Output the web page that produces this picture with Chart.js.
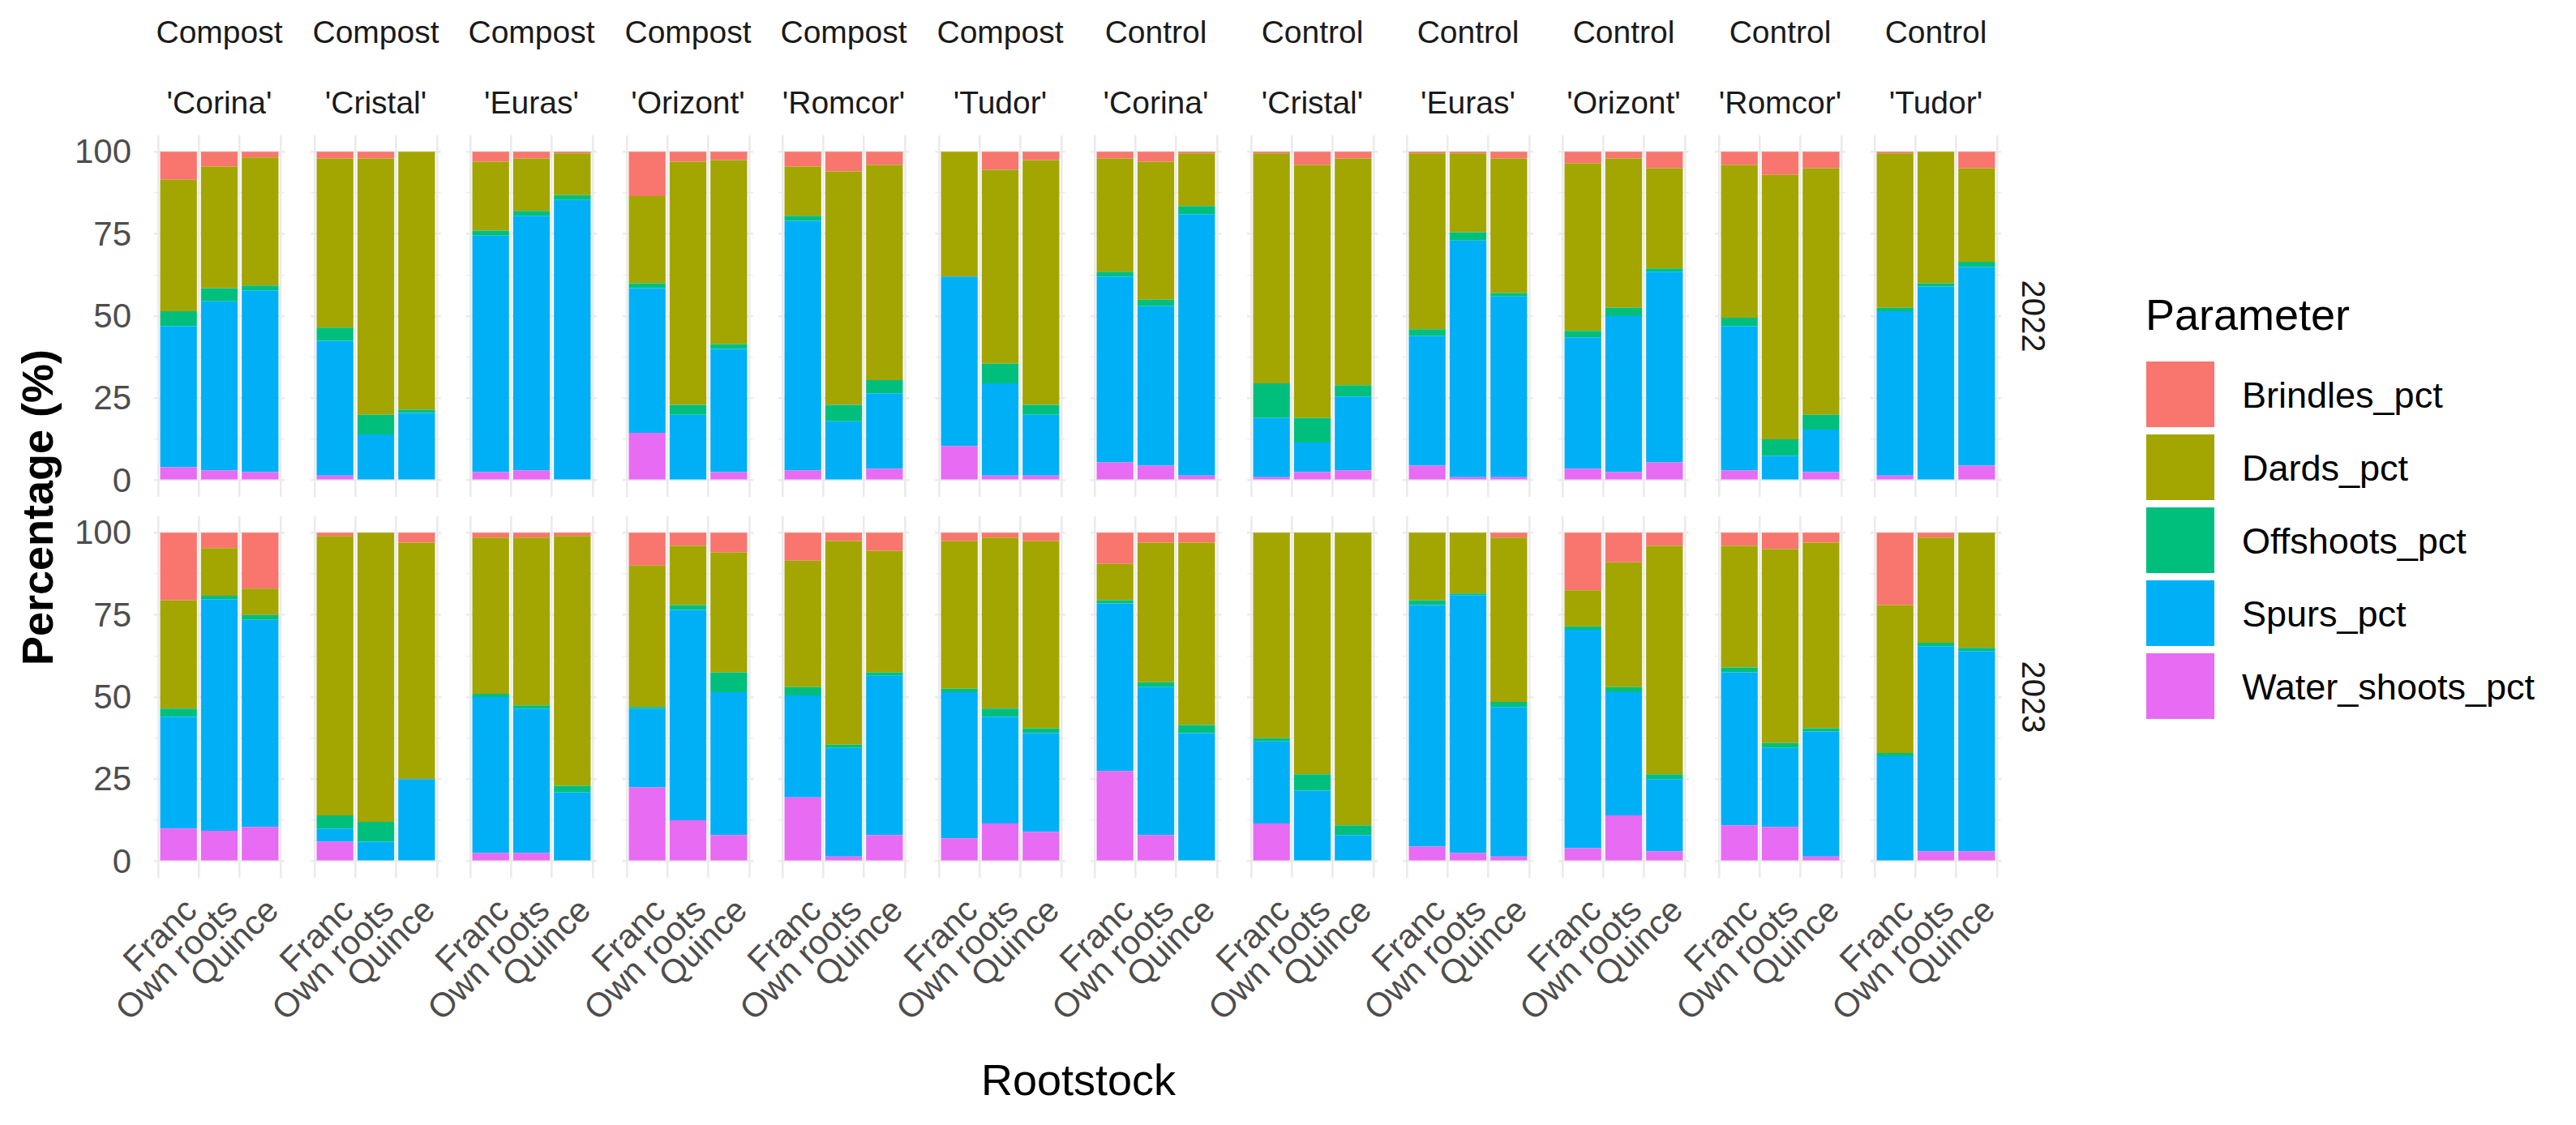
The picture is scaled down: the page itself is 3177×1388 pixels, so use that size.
<!DOCTYPE html>
<html><head><meta charset="utf-8">
<script src="https://cdn.jsdelivr.net/npm/chart.js@4.4.1/dist/chart.umd.min.js"></script>
<style>
html,body{margin:0;padding:0;background:#fff;}
#root{position:relative;width:3177px;height:1388px;overflow:hidden;font-family:"Liberation Sans",Arial,sans-serif;background:#fff;}
#root canvas{position:absolute;}
.t{position:absolute;white-space:nowrap;line-height:1;}
</style></head><body><div id="root"></div>
<script>
// ---------- categories ----------
const treatments = ['Compost','Compost','Compost','Compost','Compost','Compost','Control','Control','Control','Control','Control','Control'];
const cultivars = ["'Corina'","'Cristal'","'Euras'","'Orizont'","'Romcor'","'Tudor'","'Corina'","'Cristal'","'Euras'","'Orizont'","'Romcor'","'Tudor'"];
const rootstocks = ['Franc','Own roots','Quince'];
const years = ['2022','2023'];
const seriesNames = ['Brindles_pct','Dards_pct','Offshoots_pct','Spurs_pct','Water_shoots_pct'];
const seriesColors = ['#F8766D','#A3A500','#00BF7D','#00B0F6','#E76BF3'];
const yTickLabels = [0,25,50,75,100];
const yGridValues = [0,12.5,25,37.5,50,62.5,75,87.5,100];

// ---------- values: one [Franc, Own roots, Quince] triple per panel ----------
const brindles2022 = [[8.5,4.5,1.7],[2,2,0],[3,2,0.5],[13.5,3,2.5],[4.5,6,4],[0,5.5,2.5],[2,3,0.5],[0.5,4,2],[0.5,0.5,2],[3.5,2,5],[4,7,5],[0.5,0,5]];
const dards2022    = [[40,37,39],[51.5,78,78.5],[21,16,12.7],[26.5,74,56],[15,71,65.5],[38,59,74.5],[34.5,42,16],[70,77,69],[53.5,24,41],[51,45.5,30.5],[46.5,80.5,75],[47,40,28.5]];
const offshoots2022= [[4.5,4,1.5],[4,6,1],[1.5,1.5,1.5],[1.5,3,1.5],[1.5,5,4],[0,6,3],[1.5,2,2.5],[10.5,7.5,3.5],[2,2.5,1],[2,2.5,1],[2.5,5,4.5],[1,1,1.5]];
const spurs2022    = [[43,51.5,55.3],[41,14,20.5],[72,77.5,85.3],[44,20,37.5],[76,18,23],[51.5,28,18.5],[56.5,48.5,79.5],[18,9,22.5],[39.5,72,55],[40,47.5,58],[44,7.5,13],[50,59,60.5]];
const water2022    = [[4,3,2.5],[1.5,0,0],[2.5,3,0],[14.5,0,2.5],[3,0,3.5],[10.5,1.5,1.5],[5.5,4.5,1.5],[1,2.5,3],[4.5,1,1],[3.5,2.5,5.5],[3,0,2.5],[1.5,0,4.5]];

const brindles2023 = [[20.5,4.7,17],[1,0,3],[1.5,1.5,1],[10,4,6],[8.5,2.5,5.5],[2.5,1.5,2.5],[9.5,3,3],[0,0,0],[0,0,1.5],[17.5,9,4],[4,5,3],[22,1.5,0]];
const dards2023    = [[33,14.5,8],[85,88,72],[47.5,51,76],[43,18,36.5],[38.5,62,37],[45,52,57],[11,42.5,55.5],[62.5,73.5,89],[20.5,18.5,50],[11,38,69.5],[37,59,56.5],[45,32,35]];
const offshoots2023= [[2.5,1,1.5],[4,6,0],[1,1,2],[0.5,1.5,6],[2.5,1,1],[1,2.5,1.5],[1,1.5,2.5],[1,5,3],[1.5,0.5,1.5],[1,1.5,1.5],[1.5,1.5,1],[1,1,1]];
const spurs2023    = [[34,70.5,63],[4,6,25],[47.5,44,21],[24,64,43.5],[31,33,48.5],[44.5,32.5,30],[51,45,39],[25,21.5,8],[73.5,78.5,45.5],[66.5,37.5,22],[46.5,24,38],[32,62.5,61]];
const water2023    = [[10,9.3,10.5],[6,0,0],[2.5,2.5,0],[22.5,12.5,8],[19.5,1.5,8],[7,11.5,9],[27.5,8,0],[11.5,0,0],[4.5,2.5,1.5],[4,14,3],[11,10.5,1.5],[0,3,3]];

const yearSeries = [
  {Brindles_pct:brindles2022, Dards_pct:dards2022, Offshoots_pct:offshoots2022, Spurs_pct:spurs2022, Water_shoots_pct:water2022},
  {Brindles_pct:brindles2023, Dards_pct:dards2023, Offshoots_pct:offshoots2023, Spurs_pct:spurs2023, Water_shoots_pct:water2023}
];

// ---------- layout ----------
const root = document.getElementById('root');
const PX0 = 190.4, PSTEP = 192.45, PW = 161, PH = 446;
const ROWTOP = [166.75, 636.8];
const GRID = '#EBEBEB';

function addText(txt, css) {
  const d = document.createElement('div');
  d.className = 't';
  d.textContent = txt;
  Object.assign(d.style, css);
  root.appendChild(d);
  return d;
}

const stackOrder = ['Water_shoots_pct','Spurs_pct','Offshoots_pct','Dards_pct','Brindles_pct'];

for (let r = 0; r < years.length; r++) {
  for (let p = 0; p < treatments.length; p++) {
    const left = Math.round(PX0 + PSTEP * p);
    const top = Math.round(ROWTOP[r]);
    const cv = document.createElement('canvas');
    cv.width = PW; cv.height = PH;
    cv.style.left = left + 'px'; cv.style.top = top + 'px';
    cv.style.width = PW + 'px'; cv.style.height = PH + 'px';
    root.appendChild(cv);
    const datasets = stackOrder.map(name => {
      const k = seriesNames.indexOf(name);
      return {
        label: name,
        data: rootstocks.map((rs, i) => ({x: i + 1, y: yearSeries[r][name][p][i]})),
        backgroundColor: seriesColors[k],
        borderWidth: 0,
        barPercentage: 0.9,
        categoryPercentage: 1.0
      };
    });
    const chart = new Chart(cv, {
      type: 'bar',
      data: {datasets},
      options: {
        responsive: false, animation: false, devicePixelRatio: 1,
        layout: {padding: 0},
        plugins: {legend: {display: false}, tooltip: {enabled: false}},
        scales: {
          x: {
            type: 'linear', min: 0.4, max: 3.6, stacked: true, offset: false,
            grid: {color: GRID, lineWidth: 2.6, drawTicks: false},
            border: {display: false},
            ticks: {display: false},
            afterBuildTicks: a => { a.ticks = rootstocks.map((_, i) => ({value: i + 1})); },
            afterFit: a => { a.height = 0; }
          },
          y: {
            type: 'linear', min: -5, max: 105, stacked: true,
            grid: {
              color: GRID,
              lineWidth: c => (c.tick && c.tick.value % 25 === 0) ? 2.6 : 1.3,
              drawTicks: false
            },
            border: {display: false},
            ticks: {display: false},
            afterBuildTicks: a => { a.ticks = yGridValues.map(v => ({value: v})); },
            afterFit: a => { a.width = 0; }
          }
        }
      }
    });

    // y tick labels (left column only)
    if (p === 0) {
      yTickLabels.forEach(v => {
        const y = top + chart.scales.y.getPixelForValue(v);
        addText(String(v), {right: (3177 - 162) + 'px', top: y + 'px', transform: 'translateY(-50%)',
          fontSize: '42px', color: '#4D4D4D', textAlign: 'right'});
      });
    }
    // strip labels (top row)
    if (r === 0) {
      const cx = left + PW / 2;
      addText(treatments[p], {left: cx + 'px', top: '39px', transform: 'translate(-50%,-50%)', fontSize: '39px', color: '#1A1A1A'});
      addText(cultivars[p], {left: cx + 'px', top: '126px', transform: 'translate(-50%,-50%)', fontSize: '39px', color: '#1A1A1A'});
    }
    // x tick labels (bottom row)
    if (r === years.length - 1) {
      rootstocks.forEach((rs, i) => {
        const x = left + chart.scales.x.getPixelForValue(i + 1);
        addText(rs, {right: (3177 - x) + 'px', top: '1101px', transformOrigin: '100% 0', transform: 'rotate(-45deg)',
          fontSize: '42px', color: '#4D4D4D'});
      });
    }
  }
  // right strip (year)
  addText(years[r], {left: '2508px', top: (ROWTOP[r] + PH / 2) + 'px', transform: 'translate(-50%,-50%) rotate(90deg)',
    fontSize: '40px', color: '#1A1A1A'});
}

// axis titles
addText('Percentage (%)', {left: '46px', top: '626px', transform: 'translate(-50%,-50%) rotate(-90deg)', fontSize: '54px', fontWeight: 'bold', color: '#000'});
addText('Rootstock', {left: '1330px', top: '1332px', transform: 'translate(-50%,-50%)', fontSize: '54px', color: '#000'});

// legend
addText('Parameter', {left: '2646px', top: '388px', transform: 'translateY(-50%)', fontSize: '54px', color: '#000'});
seriesNames.forEach((name, k) => {
  const top = 446 + 90 * k;
  const key = document.createElement('div');
  Object.assign(key.style, {position: 'absolute', left: '2647px', top: top + 'px', width: '84px', height: '81px', background: seriesColors[k]});
  root.appendChild(key);
  addText(name, {left: '2765px', top: (top + 40.5) + 'px', transform: 'translateY(-50%)', fontSize: '45px', color: '#000'});
});
</script></body></html>
